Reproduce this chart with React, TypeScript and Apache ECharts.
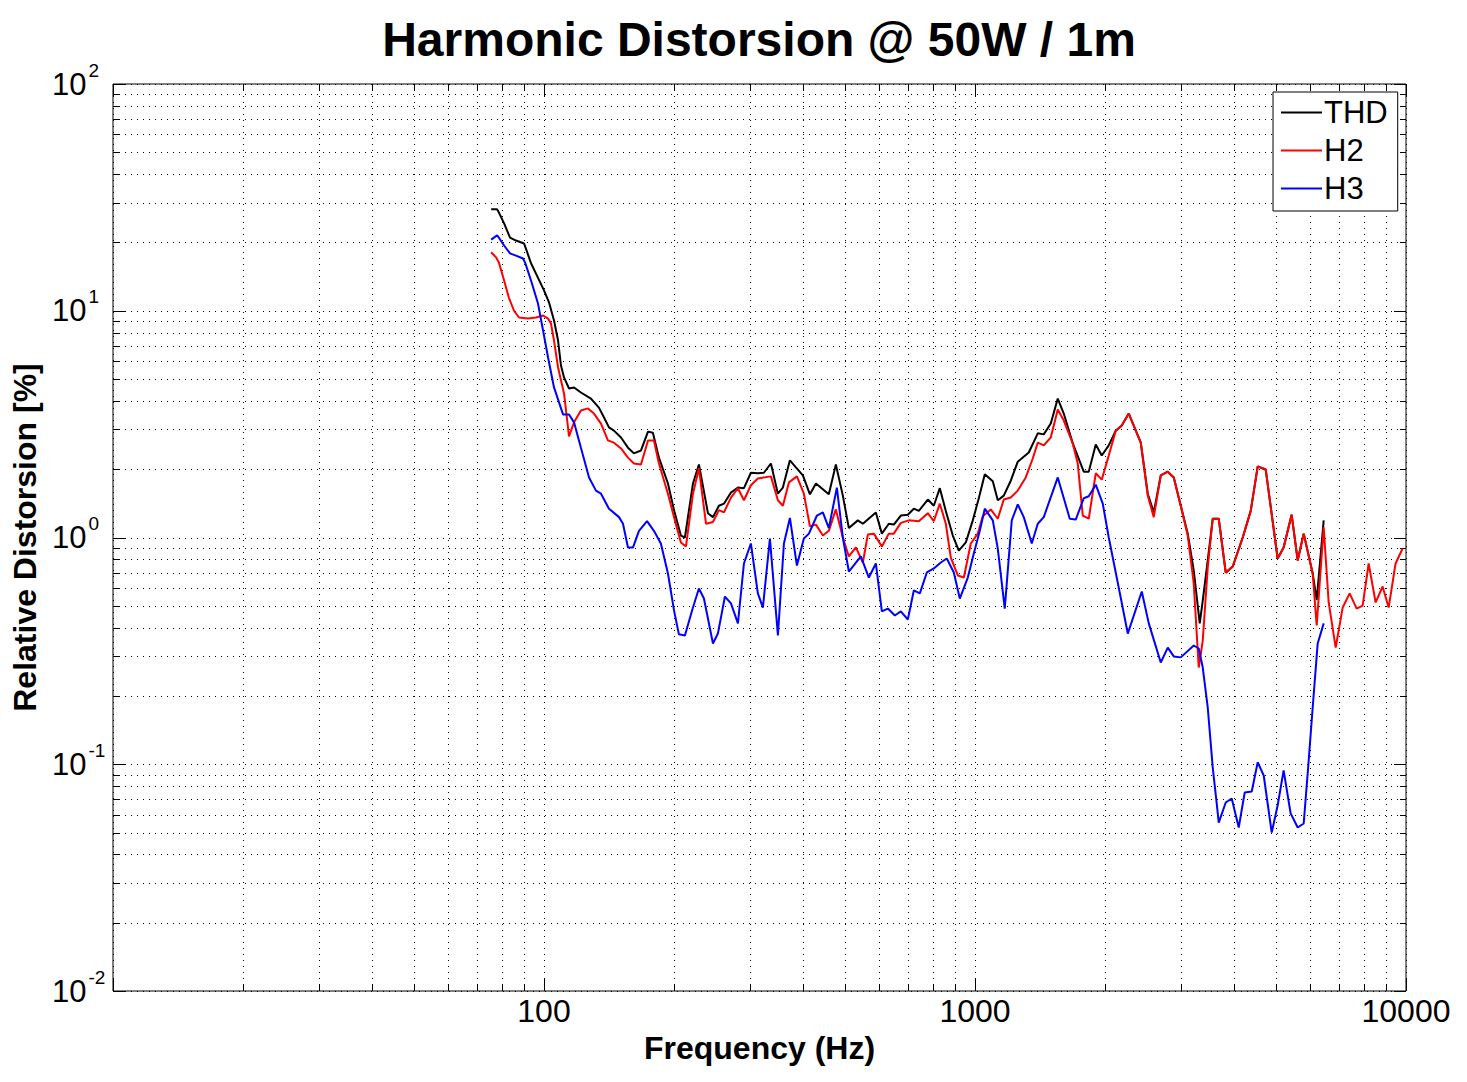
import React, { useEffect, useRef } from "react";
import * as echarts from "echarts";

// ---- Data (frequency in Hz, distortion in %) ----
const thdFreq = [
  75.4, 77.8, 78.6, 80.8, 83.4, 86.1, 89.9, 90.8, 93.3, 96.8,
  100, 102.7, 105.5, 107.8, 109.5, 111.3, 114.3, 117.4, 121.8, 128.5,
  134.1, 137.8, 141.5, 145.3, 150.9, 156.6, 161.7, 167.9, 174.3, 178.9,
  184.8, 193.9, 200.3, 207.8, 212.3, 221.6, 228.8, 240.1, 246.6, 254.6,
  261.5, 271.5, 281.8, 291.0, 302.0, 313.5, 323.7, 336.1, 348.9, 358.3,
  372.0, 384.1, 398.7, 414.0, 427.5, 458.0, 475.5, 493.6, 509.7, 534.8,
  549.3, 588.8, 608.0, 631.0, 648.2, 672.8, 698.5, 721.2, 740.7, 777.2,
  802.5, 828.6, 855.6, 888.2, 917.1, 952.1, 988.3, 1020.5, 1053.7, 1099.7,
  1129.4, 1166.2, 1210.6, 1256.7, 1332.8, 1398.4, 1443.9, 1499, 1556.1, 1606.8,
  1685.9, 1787.9, 1836.3, 1906.3, 1968.4, 2043.4, 2121.2, 2190.3, 2274, 2424.5,
  2516.9, 2598.9, 2697.9, 2800.6, 2891.8, 3001.9, 3116.2, 3217.7, 3322.4, 3376.1,
  3467.4, 3561.2, 3677.2, 3817.3, 3962.7, 4180.1, 4362.6, 4528.8, 4726.4, 5037,
  5201, 5428, 5606.8, 5789.3, 6074.5, 6205.6, 6442,
];
const thdValues = [
  28.0, 28.0, 27.1, 24.3, 21.0, 20.4, 19.8, 18.8, 16.2, 14.0,
  12.3, 10.9, 9.06, 7.39, 5.73, 5.08, 4.54, 4.59, 4.36, 4.10,
  3.74, 3.38, 3.06, 2.96, 2.76, 2.49, 2.35, 2.42, 2.93, 2.90,
  2.25, 1.73, 1.32, 1.02, 1.00, 1.73, 2.10, 1.28, 1.23, 1.38,
  1.41, 1.58, 1.66, 1.65, 1.93, 1.92, 1.93, 2.12, 1.56, 1.66,
  2.19, 2.04, 1.88, 1.55, 1.73, 1.55, 2.10, 1.53, 1.10, 1.19,
  1.15, 1.29, 1.04, 1.15, 1.14, 1.25, 1.26, 1.34, 1.31, 1.47,
  1.38, 1.65, 1.31, 1.02, 0.876, 0.951, 1.19, 1.49, 1.90, 1.77,
  1.46, 1.53, 1.78, 2.16, 2.37, 2.88, 2.85, 3.18, 4.10, 3.52,
  2.60, 1.95, 1.95, 2.57, 2.30, 2.55, 2.96, 3.12, 3.52, 2.62,
  1.56, 1.29, 1.88, 1.95, 1.84, 1.38, 1.04, 0.715, 0.418, 0.527,
  0.792, 1.21, 1.21, 0.70, 0.745, 1.0, 1.31, 2.06, 1.99, 0.808,
  0.904, 1.26, 0.792, 1.04, 0.694, 0.53, 1.19,
];

const h2Freq = [
  75.4, 77.4, 78.6, 80.8, 82.9, 85.2, 87.5, 91.8, 95.8, 99.5,
  102.2, 103.8, 105.5, 107.8, 111.3, 114.3, 117.4, 121.8, 126.5, 130.6,
  135.6, 140.7, 145.3, 150.9, 156.6, 161.7, 167.9, 174.3, 179.9, 184.8,
  193.9, 200.3, 207.8, 213.5, 221.6, 228.8, 237.6, 246.6, 254.6, 261.5,
  271.5, 281.8, 291.0, 302.0, 313.5, 336.1, 348.9, 358.3, 370.0, 386.2,
  400.8, 414.0, 427.5, 443.6, 458.0, 475.5, 493.6, 509.7, 529.2, 549.3,
  564.1, 582.5, 608.0, 631.0, 648.2, 672.8, 702.3, 740.7, 777.2, 802.5,
  828.6, 855.6, 878.8, 912.2, 942.1, 977.8, 1015.1, 1042.5, 1087.9, 1129.4,
  1166.2, 1210.6, 1256.7, 1311.6, 1361.5, 1398.4, 1443.9, 1499, 1556.1, 1606.8,
  1685.9, 1731.4, 1778.3, 1836.3, 1906.3, 1968.4, 2043.4, 2121.2, 2190.3, 2274,
  2424.5, 2516.9, 2598.9, 2697.9, 2800.6, 2891.8, 3001.9, 3116.2, 3217.7, 3304.7,
  3376.1, 3467.4, 3561.2, 3677.2, 3817.3, 3962.7, 4180.1, 4362.6, 4528.8, 4726.4,
  5037, 5201, 5428, 5606.8, 5789.3, 6074.5, 6205.6, 6442, 6616.3, 6868.3,
  7129.9, 7401.5, 7683, 7933, 8191, 8502, 8826, 9114, 9459, 9820,
];
const h2Values = [
  18.1, 17.2, 16.3, 13.6, 11.4, 10.0, 9.34, 9.24, 9.34, 9.53,
  9.24, 8.79, 7.39, 5.62, 4.32, 2.79, 3.22, 3.63, 3.71, 3.52,
  3.18, 2.68, 2.62, 2.47, 2.25, 2.12, 2.10, 2.68, 2.68, 2.12,
  1.56, 1.23, 0.951, 0.913, 1.56, 2.02, 1.15, 1.17, 1.32, 1.29,
  1.50, 1.65, 1.46, 1.70, 1.82, 1.86, 1.46, 1.38, 1.75, 1.86,
  1.56, 1.12, 1.14, 1.02, 1.07, 1.33, 1.0, 0.825, 0.904, 0.776,
  1.03, 1.04, 0.913, 1.04, 1.04, 1.16, 1.19, 1.18, 1.28, 1.18,
  1.41, 1.15, 0.816, 0.68, 0.666, 0.941, 1.04, 1.24, 1.33, 1.21,
  1.47, 1.50, 1.61, 1.84, 2.23, 2.62, 2.55, 2.76, 3.67, 3.28,
  2.60, 2.12, 1.25, 1.21, 1.92, 1.80, 2.30, 2.96, 3.12, 3.52,
  2.62, 1.53, 1.23, 1.88, 1.95, 1.84, 1.38, 1.02, 0.627, 0.267,
  0.351, 0.738, 1.21, 1.21, 0.70, 0.745, 1.0, 1.31, 2.06, 2.0,
  0.808, 0.904, 1.26, 0.792, 1.04, 0.694, 0.409, 1.11, 0.517, 0.327,
  0.491, 0.567, 0.486, 0.501, 0.768, 0.517, 0.608, 0.491, 0.768, 0.894,
];

const h3Freq = [
  75.4, 77.8, 78.6, 80.8, 83.4, 86.1, 89.4, 90.4, 93.3, 96.8,
  99.5, 102.2, 105.5, 110.7, 114.3, 117.4, 121.8, 127.2, 132.0, 135.6,
  141.5, 149.3, 152.5, 156.6, 160.9, 166.1, 173.4, 179.9, 186.7, 193.9,
  200.3, 205.6, 212.3, 221.6, 228.8, 235.0, 246.6, 253.2, 262.9, 271.5,
  281.8, 291.0, 302.0, 313.5, 322.0, 334.3, 348.9, 360.3, 372.0, 386.2,
  400.8, 411.8, 429.8, 443.6, 458.0, 478.1, 493.6, 509.7, 543.4, 567.2,
  588.8, 608.0, 627.7, 651.7, 672.8, 698.5, 721.2, 744.7, 773.1, 802.5,
  833.1, 860.2, 893.0, 922.0, 962.3, 993.6, 1026.0, 1053.7, 1099.7, 1129.4,
  1172.4, 1217.0, 1256.7, 1297.6, 1354.3, 1398.4, 1443.9, 1556.1, 1659.1, 1713.1,
  1787.9, 1836.3, 1906.3, 1979.0, 2043.4, 2155.0, 2261.9, 2437.5, 2530.4, 2697.9,
  2800.6, 2891.8, 3001.9, 3217.7, 3304.7, 3376.1, 3467.4, 3561.2, 3638.3, 3677.2,
  3817.3, 3941.6, 4091.8, 4225, 4385.8, 4528.8, 4676.2, 4880.3, 5037, 5201,
  5399.1, 5606.8, 5789.3, 5914.4, 6074.5, 6238.8, 6442,
];
const h3Values = [
  20.6, 21.5, 21.0, 19.4, 17.9, 17.5, 17.0, 16.3, 13.6, 10.8,
  8.18, 6.22, 4.59, 3.49, 3.49, 3.22, 2.49, 1.84, 1.61, 1.56,
  1.34, 1.23, 1.15, 0.904, 0.904, 1.07, 1.18, 1.07, 0.941, 0.694,
  0.477, 0.374, 0.370, 0.491, 0.596, 0.538, 0.341, 0.377, 0.549, 0.512,
  0.418, 0.768, 0.941, 0.567, 0.491, 0.99, 0.370, 0.941, 1.22, 0.752,
  0.99, 1.04, 1.25, 1.29, 1.10, 1.66, 1.0, 0.708, 0.825, 0.666,
  0.768, 0.472, 0.486, 0.453, 0.472, 0.435, 0.584, 0.567, 0.701, 0.730,
  0.776, 0.808, 0.701, 0.538, 0.666, 0.850, 1.07, 1.34, 1.19, 0.894,
  0.486, 1.19, 1.40, 1.23, 0.941, 1.15, 1.23, 1.84, 1.21, 1.20,
  1.49, 1.52, 1.71, 1.41, 1.0, 0.602, 0.377, 0.578, 0.418, 0.281,
  0.327, 0.299, 0.296, 0.334, 0.324, 0.267, 0.178, 0.0967, 0.0671, 0.0553,
  0.0678, 0.0706, 0.0526, 0.0751, 0.0758, 0.102, 0.0892, 0.050, 0.0658, 0.0939,
  0.0607, 0.0526, 0.0548, 0.0911, 0.178, 0.341, 0.418,
];

// ---- Ticks ----
const xMajorTicks = [10, 100, 1000, 10000];
const xMinorTicks = [
  20, 30, 40, 50, 60, 70, 80, 90,
  200, 300, 400, 500, 600, 700, 800, 900,
  2000, 3000, 4000, 5000, 6000, 7000, 8000, 9000,
];
const yMajorTicks = [0.01, 0.1, 1, 10, 100];
const yMinorTicks = [
  0.02, 0.03, 0.04, 0.05, 0.06, 0.07, 0.08, 0.09,
  0.2, 0.3, 0.4, 0.5, 0.6, 0.7, 0.8, 0.9,
  2, 3, 4, 5, 6, 7, 8, 9,
  20, 30, 40, 50, 60, 70, 80, 90,
];

const seriesNames = ["THD", "H2", "H3"];
const seriesColors = ["#000000", "#ff0000", "#0000ff"];

const FONT = "'Liberation Sans', Arial, Helvetica, sans-serif";

export default function App() {
  const ref = useRef<HTMLDivElement>(null);

  useEffect(() => {
    document.body.style.margin = "0";
    document.body.style.overflow = "hidden";
    const chart = echarts.init(ref.current as HTMLDivElement, null, { renderer: "svg" });

    const zip = (f: number[], v: number[]) => f.map((x, i) => [x, v[i]]);

    const gridRender = (dir: "x" | "y") => (params: any, api: any) => {
      const cs = params.coordSys;
      const major = api.value(2) === 1;
      const len = major ? 12 : 6;
      const left = cs.x;
      const right = cs.x + cs.width;
      const top = cs.y;
      const bottom = cs.y + cs.height;
      const p = api.coord([api.value(0), api.value(1)]);
      const dot = { stroke: "#000", lineWidth: 1, lineDash: [1, 5] };
      const solid = { stroke: "#000", lineWidth: 1 };
      if (dir === "x") {
        const px = Math.round(p[0]) + 0.5;
        return {
          type: "group",
          children: [
            { type: "line", shape: { x1: px, y1: top, x2: px, y2: bottom }, style: dot },
            { type: "line", shape: { x1: px, y1: bottom, x2: px, y2: bottom - len }, style: solid },
            { type: "line", shape: { x1: px, y1: top, x2: px, y2: top + len }, style: solid },
          ],
        };
      }
      const py = Math.round(p[1]) + 0.5;
      return {
        type: "group",
        children: [
          { type: "line", shape: { x1: left, y1: py, x2: right, y2: py }, style: dot },
          { type: "line", shape: { x1: left, y1: py, x2: left + len, y2: py }, style: solid },
          { type: "line", shape: { x1: right, y1: py, x2: right - len, y2: py }, style: solid },
        ],
      };
    };

    const xGridData = [
      ...xMajorTicks.map((v) => [v, 1, 1]),
      ...xMinorTicks.map((v) => [v, 1, 0]),
    ];
    const yGridData = [
      ...yMajorTicks.map((v) => [100, v, 1]),
      ...yMinorTicks.map((v) => [100, v, 0]),
    ];

    const lineData = [
      zip(thdFreq, thdValues),
      zip(h2Freq, h2Values),
      zip(h3Freq, h3Values),
    ];

    const option: any = {
      animation: false,
      backgroundColor: "#ffffff",
      textStyle: { fontFamily: FONT },
      title: {
        text: "Harmonic Distorsion @ 50W / 1m",
        left: 759,
        top: 15,
        padding: 0,
        textAlign: "center",
        textStyle: { fontSize: 48, fontWeight: "bold", color: "#000", fontFamily: FONT },
      },
      legend: {
        data: seriesNames,
        orient: "vertical",
        left: 1273,
        top: 92,
        icon: "rect",
        itemWidth: 41,
        itemHeight: 2,
        itemGap: 7,
        padding: [5, 10, 7, 8],
        backgroundColor: "#ffffff",
        borderColor: "#000000",
        borderWidth: 1,
        borderRadius: 0,
        textStyle: { fontSize: 31, color: "#000", fontFamily: FONT, padding: [0, 0, 0, -3] },
      },
      grid: {
        left: 113,
        right: 61,
        top: 84,
        bottom: 91,
        show: true,
        borderColor: "#000",
        borderWidth: 1,
        backgroundColor: "transparent",
      },
      xAxis: {
        type: "log",
        logBase: 10,
        min: 10,
        max: 10000,
        name: "Frequency (Hz)",
        nameLocation: "middle",
        nameGap: 29,
        nameTextStyle: { fontSize: 32, fontWeight: "bold", color: "#000", fontFamily: FONT },
        axisLine: { show: false },
        axisTick: { show: false },
        splitLine: { show: false },
        minorTick: { show: false },
        axisLabel: {
          color: "#000",
          fontSize: 32,
          fontFamily: FONT,
          margin: 4,
          showMinLabel: true,
          showMaxLabel: true,
          formatter: (v: number) => {
            const r = Math.round(v);
            return r <= 10 ? "" : String(r);
          },
        },
      },
      yAxis: {
        type: "log",
        logBase: 10,
        min: 0.01,
        max: 100,
        name: "Relative Distorsion [%]",
        nameLocation: "middle",
        nameGap: 71,
        nameTextStyle: { fontSize: 32, fontWeight: "bold", color: "#000", fontFamily: FONT },
        axisLine: { show: false },
        axisTick: { show: false },
        splitLine: { show: false },
        minorTick: { show: false },
        axisLabel: {
          margin: 61,
          align: "left",
          showMinLabel: true,
          showMaxLabel: true,
          formatter: (v: number) => `{b|10}{s|${Math.round(Math.log10(v))}}`,
          rich: {
            b: { fontSize: 31, color: "#000", fontFamily: FONT, padding: [8, 0, 8, 0] },
            s: { fontSize: 19, color: "#000", fontFamily: FONT, verticalAlign: "top", padding: [0, 0, 0, 2] },
          },
        },
      },
      series: [
        {
          type: "custom",
          name: "xgrid",
          silent: true,
          z: 1,
          encode: { x: 0, y: 1 },
          renderItem: gridRender("x"),
          data: xGridData,
        },
        {
          type: "custom",
          name: "ygrid",
          silent: true,
          z: 1,
          encode: { x: 0, y: 1 },
          renderItem: gridRender("y"),
          data: yGridData,
        },
        ...seriesNames.map((name, i) => ({
          type: "line",
          name,
          z: 3,
          data: lineData[i],
          symbol: "none",
          showSymbol: false,
          clip: true,
          color: seriesColors[i],
          lineStyle: { color: seriesColors[i], width: 2 },
        })),
      ],
    };

    chart.setOption(option);
    return () => chart.dispose();
  }, []);

  return <div ref={ref} style={{ width: 1467, height: 1082 }} />;
}
